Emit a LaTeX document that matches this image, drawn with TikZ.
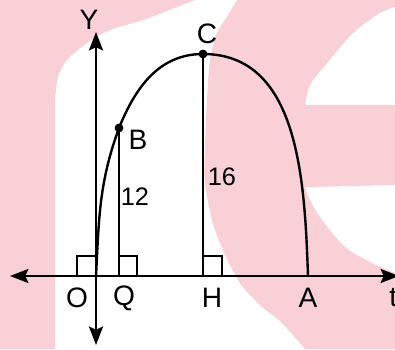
\documentclass[tikz,border=0pt]{standalone}
\usepackage{fontspec}
\setmainfont{Liberation Sans}
\usetikzlibrary{arrows.meta}
\definecolor{wmpink}{RGB}{248,208,214}

\begin{document}
\begin{tikzpicture}[x=0.025cm, y=0.025cm,
        >={Stealth[length=4.6mm,width=3.5mm,inset=0.8mm]},
        axis/.style = {line width=1.9pt, <->},
        drop/.style = {line width=1.7pt},
        corner/.style = {line width=1.2pt},
        lbl/.style = {inner sep=0pt, font=\fontsize{20}{24}\selectfont},
        num/.style = {inner sep=0pt, font=\fontsize{18}{22}\selectfont}]
    \useasboundingbox (0,0) rectangle (395,349);

    % watermark in the background
    \fill[wmpink] (0,0) -- (55,0) -- plot[smooth] coordinates {(55,249) (58,272) (67,289) (87,306) (110,319) (143,329) (177,342) (195,349)} -- (0,349) -- cycle;
    \fill[wmpink] plot[smooth] coordinates {(237,349) (225,329) (217,316) (210,289) (207,249) (205,199) (205,166) (215,119) (238,69) (260,44) (282,26) (305,0)}
        -- (395,0) -- plot[smooth] coordinates {(395,76) (372,86) (345,102) (322,129) (310,149) (305,162)}
        -- (395,164) -- (395,244) -- plot[smooth] coordinates {(305,244) (310,264) (327,286) (353,316) (380,336) (395,342)}
        -- (395,349) -- cycle;

    \coordinate (O) at (96,73);
    \coordinate (Q) at (119,73);
    \coordinate (H) at (203,73);
    \coordinate (A) at (308,73);
    \coordinate (B) at (119,221);
    \coordinate (C) at (203,295);
    \coordinate (xl) at (10,73);
    \coordinate (xr) at (399,73);
    \coordinate (yb) at (96,4);
    \coordinate (yt) at (96,317);

    % right angles
    \draw[corner] (O) rectangle ++(-19,20);
    \draw[corner] (Q) rectangle ++(18,20);
    \draw[corner] (H) rectangle ++(19,20);

    \draw[drop] (Q) -- (B);
    \draw[drop] (H) -- (C);
    \draw[drop] (O) to[out=87,in=250] (B) to[out=68,in=180] (C) to[out=0,in=92] (A);

    \draw[axis] (xl) -- (xr);
    \draw[axis] (yb) -- (yt);

    \fill (B) circle[radius=1.1mm];
    \fill (C) circle[radius=1.1mm];

    \node[lbl] (lY) at (89,329) {Y};
    \node[lbl] (lC) at (207,315) {C};
    \node[lbl] (lB) at (138,209) {B};
    \node[num] (n12) at (135,152) {12};
    \node[num] (n16) at (222,172) {16};
    \node[lbl] (lO) at (77,51) {O};
    \node[lbl] (lQ) at (124,51) {Q};
    \node[lbl] (lH) at (212,51) {H};
    \node[lbl] (lA) at (308,51) {A};
    \node[lbl, anchor=west] (lt) at (389,51) {t};
\end{tikzpicture}
\end{document}
